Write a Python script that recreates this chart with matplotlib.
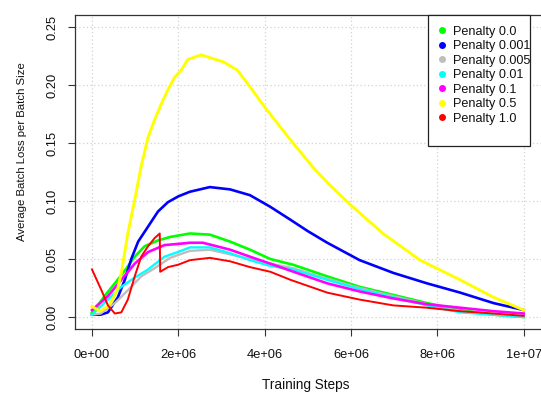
import matplotlib

matplotlib.use("Agg")
import matplotlib.pyplot as plt
from matplotlib.lines import Line2D
from matplotlib.patches import Rectangle

# training steps (millions) and average batch loss per batch size
green_x = [0, 0.06, 0.29, 0.53, 0.76, 0.99, 1.22, 1.53, 1.81, 2.27, 2.73, 3.2, 3.66, 4.13, 4.66, 5.45, 6.2, 6.98,
           7.76, 8.53, 9.3, 10]
green_y = [0.004, 0.006, 0.018, 0.029, 0.040, 0.052, 0.061, 0.066, 0.069, 0.072, 0.071, 0.065, 0.058, 0.050,
           0.045, 0.035, 0.026, 0.019, 0.012, 0.006, 0.002, 0.0]

blue_x = [0, 0.2, 0.37, 0.6, 0.76, 0.91, 1.07, 1.3, 1.53, 1.76, 2.0, 2.27, 2.73, 3.2, 3.66, 4.13, 4.59, 5.0,
          5.45, 6.2, 6.98, 7.76, 8.53, 9.3, 10]
blue_y = [0.002, 0.002, 0.004, 0.017, 0.032, 0.050, 0.065, 0.078, 0.091, 0.099, 0.104, 0.108, 0.112, 0.110,
          0.105, 0.095, 0.084, 0.074, 0.064, 0.049, 0.038, 0.029, 0.021, 0.012, 0.006]

gray_x = [0, 0.2, 0.53, 0.83, 1.14, 1.45, 1.81, 2.27, 2.73, 3.2, 3.66, 4.13, 4.66, 5.45, 6.2, 6.98, 7.76, 8.53,
          9.3, 10]
gray_y = [0.002, 0.003, 0.012, 0.023, 0.035, 0.042, 0.051, 0.057, 0.058, 0.054, 0.050, 0.046, 0.042, 0.033,
          0.025, 0.018, 0.011, 0.005, 0.002, 0.0]

cyan_x = [0, 0.37, 0.68, 0.99, 1.3, 1.68, 1.99, 2.27, 2.73, 3.2, 3.66, 4.13, 4.66, 5.45, 6.2, 6.98, 7.76, 8.53,
          9.3, 10]
cyan_y = [0.002, 0.015, 0.026, 0.034, 0.041, 0.052, 0.056, 0.060, 0.060, 0.055, 0.049, 0.044, 0.041, 0.032,
          0.024, 0.017, 0.010, 0.004, 0.002, 0.0]

magenta_x = [0, 0.37, 0.68, 0.99, 1.3, 1.68, 1.99, 2.27, 2.57, 3.2, 3.66, 4.13, 4.59, 5.45, 6.2, 6.98, 7.76,
             8.53, 9.3, 10]
magenta_y = [0.006, 0.018, 0.032, 0.046, 0.056, 0.062, 0.063, 0.064, 0.064, 0.058, 0.052, 0.046, 0.040, 0.029,
             0.022, 0.016, 0.011, 0.008, 0.005, 0.003]

yellow_x = [0, 0.2, 0.4, 0.53, 0.6, 0.68, 0.83, 0.99, 1.14, 1.3, 1.45, 1.61, 1.76, 1.92, 2.07, 2.22, 2.53, 2.87,
            3.04, 3.36, 3.59, 4.0, 4.59, 5.12, 5.5, 5.98, 6.74, 7.6, 8.53, 9.3, 10]
yellow_y = [0.009, 0.005, 0.010, 0.019, 0.025, 0.038, 0.072, 0.101, 0.130, 0.155, 0.170, 0.184, 0.196, 0.207,
            0.213, 0.222, 0.226, 0.222, 0.220, 0.213, 0.202, 0.181, 0.153, 0.129, 0.114, 0.097, 0.072, 0.049,
            0.032, 0.017, 0.006]

red_x = [0, 0.22, 0.37, 0.53, 0.68, 0.83, 0.99, 1.14, 1.3, 1.45, 1.57, 1.58, 1.76, 1.99, 2.27, 2.73, 3.2, 3.66,
         4.13, 4.6, 5.45, 6.2, 6.98, 7.76, 8.53, 9.3, 10]
red_y = [0.041, 0.023, 0.010, 0.003, 0.004, 0.015, 0.035, 0.052, 0.061, 0.068, 0.072, 0.039, 0.043, 0.045,
         0.049, 0.051, 0.048, 0.043, 0.039, 0.032, 0.021, 0.015, 0.010, 0.008, 0.005, 0.003, 0.001]

series = [
    ("Penalty 0.0", "#00FF00", green_x, green_y, 1.9),
    ("Penalty 0.001", "#0000FF", blue_x, blue_y, 1.9),
    ("Penalty 0.005", "#BEBEBE", gray_x, gray_y, 1.7),
    ("Penalty 0.01", "#00FFFF", cyan_x, cyan_y, 1.7),
    ("Penalty 0.1", "#FF00FF", magenta_x, magenta_y, 1.9),
    ("Penalty 0.5", "#FFFF00", yellow_x, yellow_y, 2.1),
    ("Penalty 1.0", "#FF0000", red_x, red_y, 1.4),
]

x_ticks = [0, 2e6, 4e6, 6e6, 8e6, 1e7]
x_labels = ["0e+00", "2e+06", "4e+06", "6e+06", "8e+06", "1e+07"]
y_ticks = [0.0, 0.05, 0.10, 0.15, 0.20, 0.25]
y_labels = ["0.00", "0.05", "0.10", "0.15", "0.20", "0.25"]

plt.rcParams.update({"font.family": "Liberation Sans", "font.size": 9.3, "text.color": "#111111"})

W, H = 541, 394
fig = plt.figure(figsize=(W / 100, H / 100), dpi=100)
# right edge of the plot box sits just past the image edge, as in the cropped original
ax = fig.add_axes([74.7 / W, (H - 328.6) / H, (542 - 74.7) / W, (328.6 - 15.4) / H])

for label, col, xs, ys, lw in series:
    ax.plot([v * 1e6 for v in xs], ys, color=col, lw=lw, solid_joinstyle="round", zorder=3)

ax.set_xlim(-4e5, -4e5 + 1.08e7 * (542 - 74.7) / (541 - 74.7))
ax.set_ylim(-0.01, 0.26)
ax.set_xticks(x_ticks)
ax.set_xticklabels(x_labels)
ax.set_yticks(y_ticks)
ax.set_yticklabels(y_labels, rotation=90, va="center")
ax.tick_params(direction="out", length=5, width=0.8, color="#333333", labelcolor="#111111")
ax.tick_params(axis="x", pad=10)
ax.tick_params(axis="y", pad=7)
ax.grid(color="#D3D3D3", linestyle=(0, (1, 2)), linewidth=0.9, zorder=0)
for s in ax.spines.values():
    s.set_color("#333333")
    s.set_linewidth(0.9)

fig.text(306 / W, 1 - 385 / H, "Training Steps", ha="center", va="center", fontsize=9.8)
fig.text(22 / W, 1 - 152 / H, "Average Batch Loss per Batch Size", ha="center", va="center",
         rotation=90, fontsize=8.2)

# legend box drawn separately so its padding matches R's legend()
fig.patches.append(Rectangle((428 / W, 1 - 146 / H), 102 / W, 131 / H, transform=fig.transFigure,
                             facecolor="white", edgecolor="#222222", linewidth=0.9, zorder=5))
handles = [Line2D([], [], marker="o", linestyle="none", color=c, markersize=4)
           for _, c, _, _, _ in series]
leg = fig.legend(handles, [s[0] for s in series], loc="upper left",
                 bbox_to_anchor=(435.5 / W, 1 - 25.5 / H), bbox_transform=fig.transFigure,
                 frameon=False, borderpad=0, borderaxespad=0, labelspacing=0.2,
                 handlelength=1.0, handletextpad=0.4, fontsize=9.1)
leg.set_zorder(6)

fig.savefig("out.png", dpi=100)
